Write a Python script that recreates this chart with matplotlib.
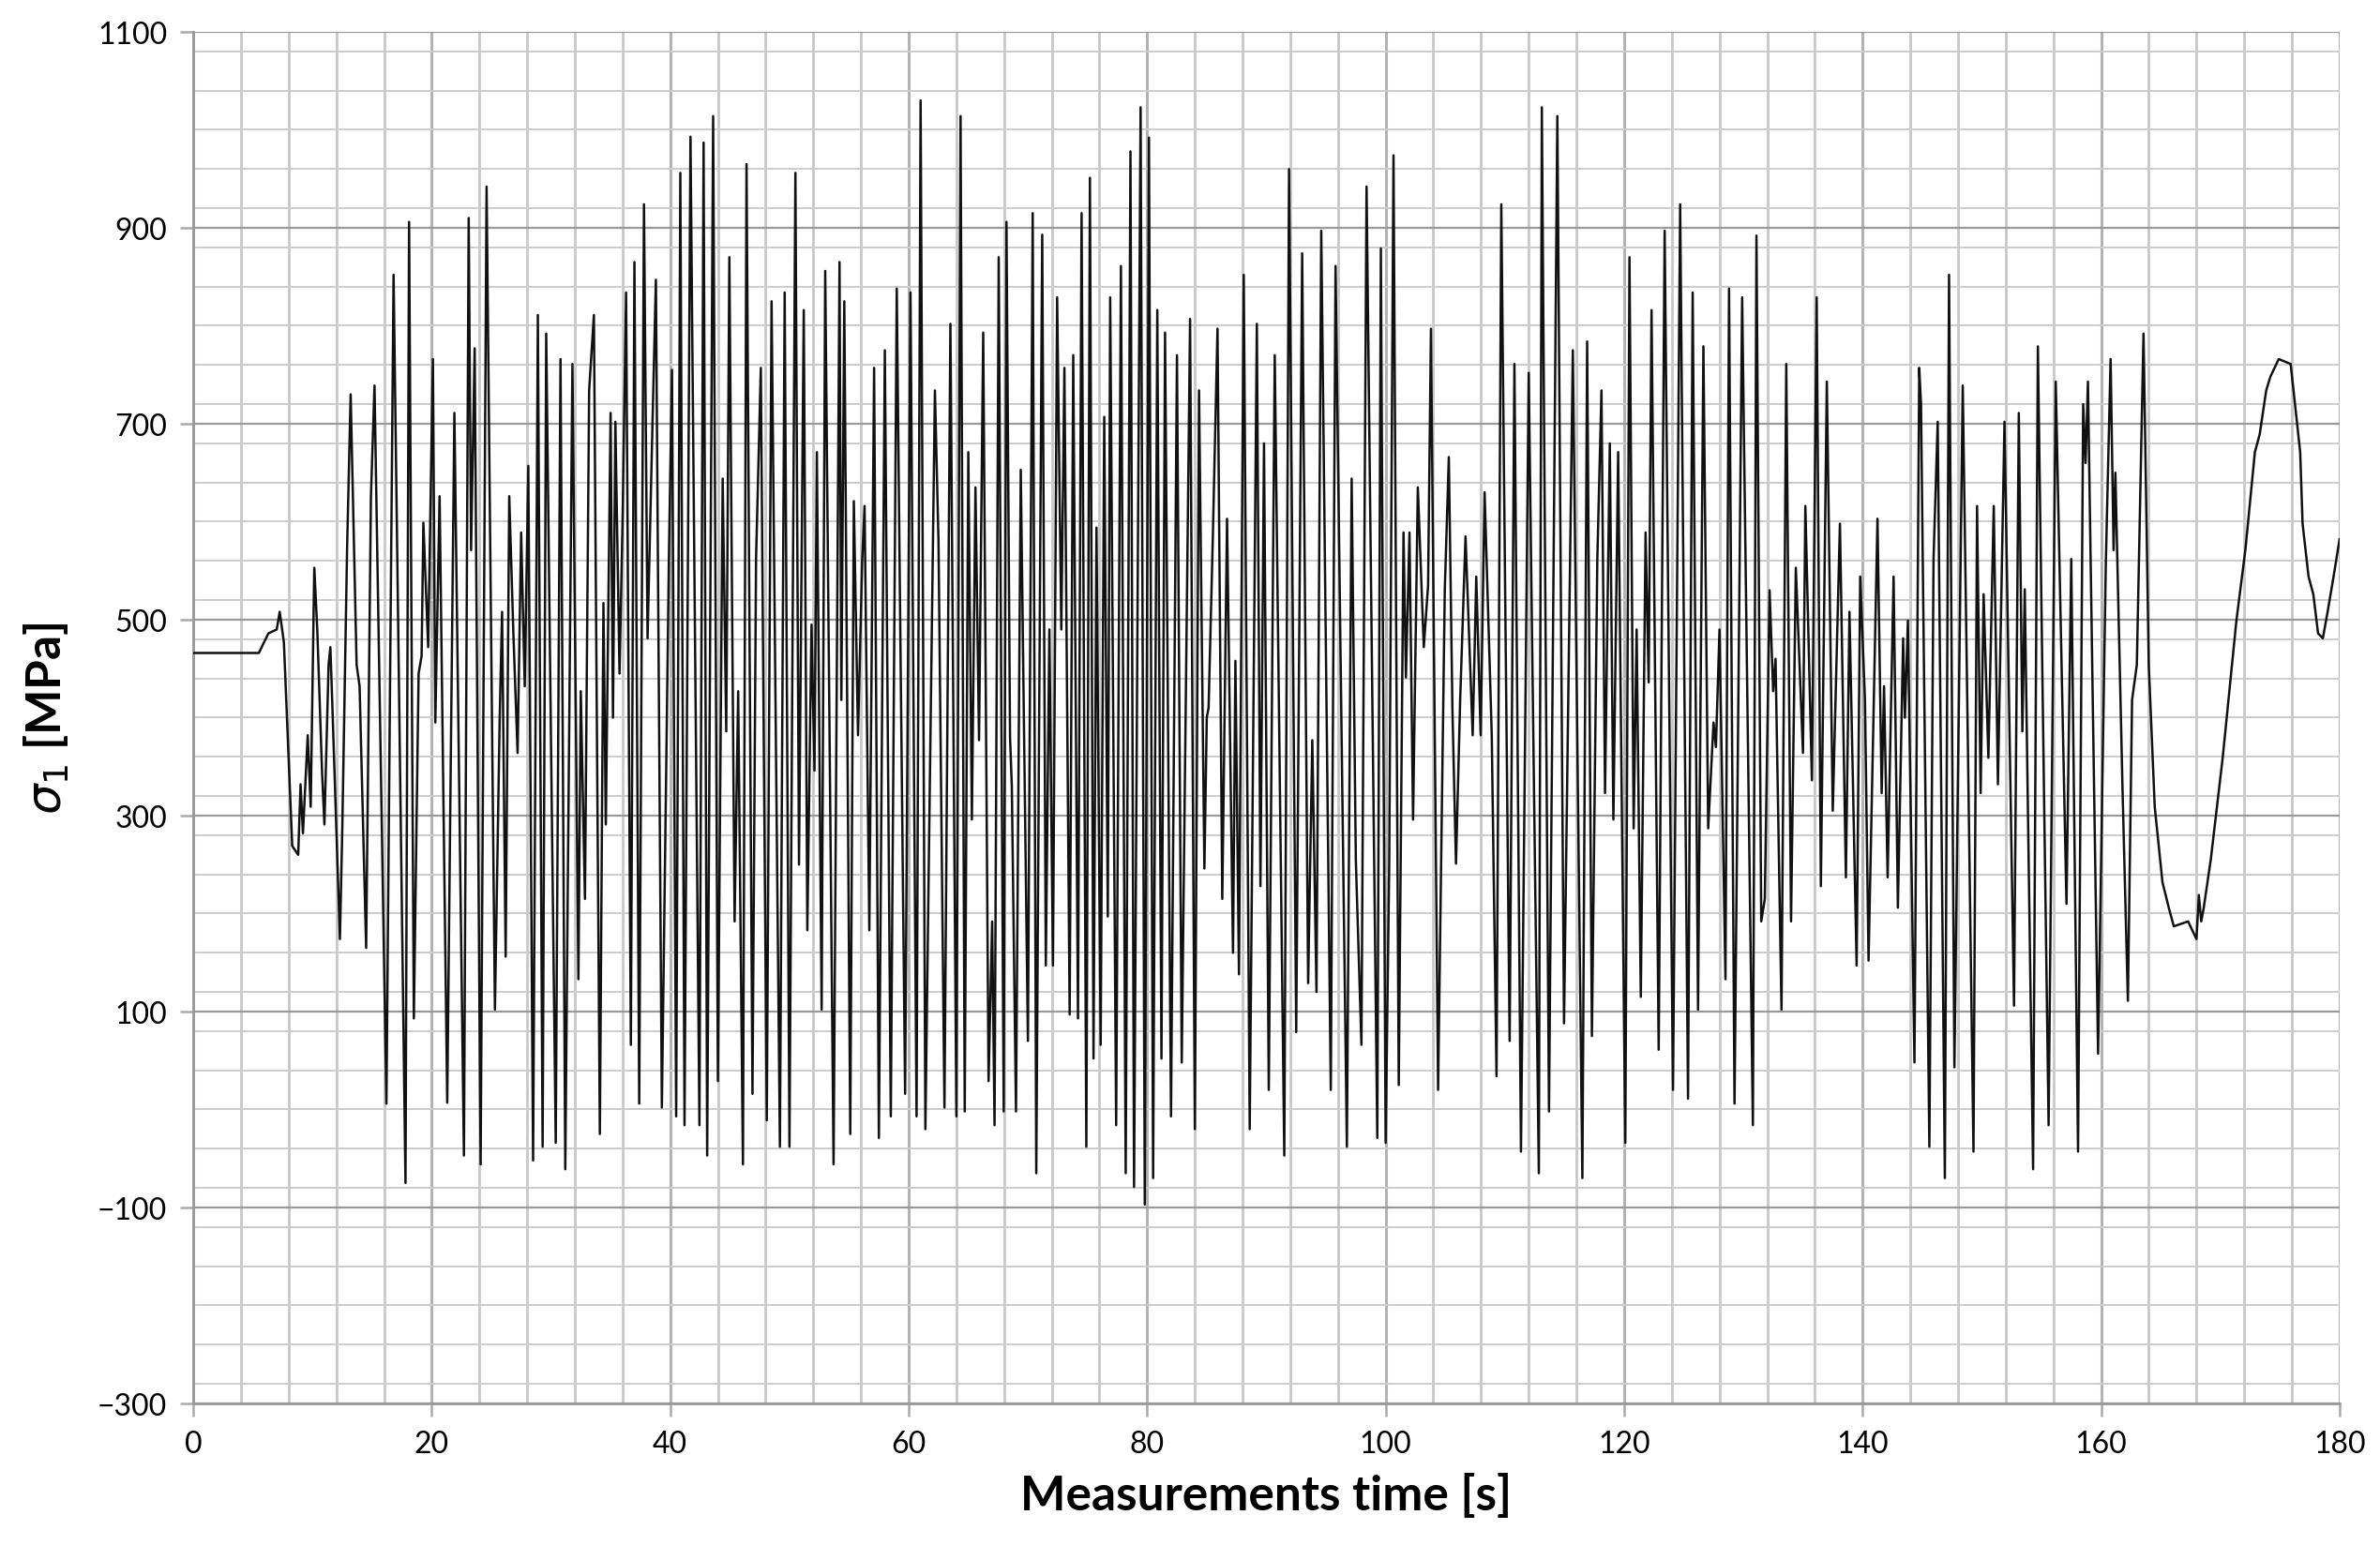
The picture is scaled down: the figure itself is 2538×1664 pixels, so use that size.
import matplotlib
matplotlib.use("Agg")
import matplotlib.pyplot as plt
from matplotlib.ticker import MultipleLocator

# turning points of the stress signal: time [s] and sigma_1 [MPa]
time_s = [
    0, 5.5, 6.3, 7.0, 7.25, 7.6, 8.3, 8.8, 9.0, 9.2, 9.6, 9.85, 10.15, 10.4, 10.8, 11.0,
    11.35, 11.5, 11.65, 12.3, 12.5, 12.9, 13.2, 13.7, 13.95, 14.5, 14.9, 15.2, 16.2, 16.8,
    17.8, 18.1, 18.5, 18.9, 19.15, 19.3, 19.7, 20.1,
    20.3, 20.66, 21.3, 21.9, 22.7, 23.1, 23.3, 23.6, 24.1, 24.6, 25.3, 25.7, 25.9, 26.2,
    26.5, 26.85, 27.2, 27.5, 27.8, 28.1, 28.5, 28.9, 29.3, 29.6, 30.4, 30.8, 31.2, 31.8,
    32.3, 32.5, 32.85, 33.2, 33.6, 34.1, 34.4, 34.6, 35.0, 35.2, 35.4, 35.75, 36.0, 36.3,
    36.7, 37.0, 37.4, 37.8, 38.1, 38.5, 38.8, 39.3, 39.9, 40.15,
    40.5, 40.85, 41.2, 41.7, 42.45, 42.8, 43.1, 43.6, 44.0, 44.4, 44.7, 44.96, 45.4, 45.7,
    46.1, 46.4, 46.9, 47.2, 47.6, 48.1, 48.5, 49.2, 49.6, 50.0, 50.5, 50.8, 51.2, 51.5,
    51.85, 52.1, 52.3, 52.7, 53.0, 53.7, 54.2, 54.35, 54.6, 55.1, 55.4, 55.75, 56.1, 56.3,
    56.7, 57.1, 57.5, 58.0, 58.5, 59.0, 59.7, 60.15, 60.66,
    61.0, 61.4, 62.2, 62.5, 63.0, 63.5, 64.0, 64.35, 64.7, 65.0, 65.3, 65.6, 65.9, 66.25,
    66.7, 67.0, 67.2, 67.55, 67.97, 68.2, 68.5, 68.65, 69.0, 69.4, 70.0, 70.4, 70.7, 71.2,
    71.5, 71.8, 72.1, 72.45, 72.8, 73.06, 73.5, 73.8, 74.2, 74.5, 74.9, 75.2, 75.5, 75.75,
    76.1, 76.4, 76.7, 76.9, 77.4, 77.8, 78.2, 78.6, 78.9, 79.45, 79.8, 80.15, 80.5,
    80.85, 81.2, 81.5, 82.0, 82.5, 82.9, 83.6, 84.0, 84.35, 84.8, 85.0, 85.15, 85.5, 85.9,
    86.3, 86.7, 87.2, 87.4, 87.7, 88.1, 88.6, 89.2, 89.5, 89.8, 90.2, 90.7, 91.5, 91.9,
    92.5, 93.0, 93.5, 93.85, 94.2, 94.6, 95.4, 95.8, 96.75, 97.15, 97.5, 97.97, 98.4, 99.3,
    99.6, 100.0,
    100.3, 100.66, 101.1, 101.5, 101.7, 102.0, 102.3, 102.7, 103.2, 103.56, 103.8, 104.4,
    104.96, 105.3, 105.6, 105.9, 106.25, 106.7, 107.3, 107.6, 107.97, 108.3, 108.9, 109.3,
    109.7, 110.4, 110.8, 111.35, 112.0, 112.85, 113.1, 113.7, 114.4, 114.96, 115.7, 116.5,
    116.9, 117.3, 117.75, 118.1, 118.4, 118.8, 119.1, 119.5, 120.1,
    120.45, 120.8, 121.05, 121.4, 121.8, 122.06, 122.3, 122.9, 123.4, 124.1, 124.7, 125.36,
    125.75, 126.2, 126.65, 127.05, 127.5, 127.7, 128.0, 128.5, 128.8, 129.26, 129.9, 130.8,
    131.1, 131.5, 131.8, 132.2, 132.5, 132.7, 133.2, 133.6, 134.0, 134.4, 135.0, 135.2,
    135.75, 136.15, 136.5, 137.0, 137.5, 138.1, 138.6, 138.9, 139.5,
    139.8, 140.2, 140.5, 141.25, 141.6, 141.8, 142.1, 142.6, 142.96, 143.4, 143.55, 143.8,
    144.35, 144.75, 144.9, 145.6, 145.95, 146.3, 146.9, 147.25, 147.7, 148.4, 148.8, 149.3,
    149.6, 149.9, 150.15, 150.55, 151.0, 151.35, 151.9, 152.7, 153.1, 153.4, 153.6, 154.3,
    154.7, 155.6, 156.2, 157.1, 157.5, 158.07, 158.5, 158.7, 158.9, 159.75,
    160.4, 160.8, 161.05, 161.2, 161.8, 162.25, 162.6, 163.0, 163.56, 164.0, 164.5, 165.15,
    165.7, 166.1, 167.3, 168.0, 168.2, 168.4, 168.6, 169.2, 170.2, 171.35, 172.1, 172.9,
    173.3, 173.85, 174.2, 174.9, 175.9, 176.3, 176.7, 176.9, 177.4, 177.8, 178.2, 178.6,
    179.0, 179.5, 180.0,
]

sigma_mpa = [
    466, 466, 486, 490, 508, 477, 269, 260, 332, 282, 382, 309, 553, 490, 345, 291,
    454, 472, 418, 174, 287, 572, 730, 454, 432, 165, 625, 739, 6, 852,
    -75, 906, 93, 445, 463, 599, 472, 766,
    395, 626, 7, 711, -47, 910, 571, 777, -56, 942, 102, 400, 508, 156,
    626, 485, 364, 589, 432, 657, -52, 811, -38, 792, -34, 766, -61, 761,
    133, 427, 215, 734, 811, -25, 517, 291, 711, 400, 702, 445, 598, 834,
    66, 865, 6, 924, 481, 693, 847, 2, 571, 755,
    -7, 956, -16, 993, -16, 987, -47, 1014, 29, 644, 386, 870, 192, 427,
    -56, 965, 16, 562, 757, -11, 825, -38, 834, -38, 956, 250, 816, 183,
    495, 346, 671, 102, 856, -56, 865, 418, 825, -25, 621, 382, 560, 616,
    183, 757, -29, 775, -7, 838, 16, 834, -7,
    1030, -20, 734, 580, 2, 802, -7, 1014, -2, 671, 296, 635, 377, 793,
    29, 192, -16, 870, -2, 906, 380, 330, -2, 653, 70, 915, -65, 893,
    147, 490, 147, 829, 490, 757, 97, 770, 93, 915, -38, 951, 52, 594,
    66, 707, 197, 829, -16, 861, -65, 978, -79, 1023, -97, 992, -70,
    816, 52, 793, -7, 770, 48, 807, -20, 734, 246, 400, 410, 580, 797,
    215, 603, 160, 458, 138, 852, -20, 802, 228, 680, 20, 770, -47, 960,
    79, 874, 129, 377, 120, 897, 20, 861, -38, 644, 255, 66, 942, -29,
    879, -34,
    250, 974, 25, 589, 441, 589, 296, 635, 472, 535, 797, 20,
    530, 666, 409, 251, 418, 585, 382, 544, 382, 630, 382, 34,
    924, 70, 761, -43, 752, -65, 1023, -2, 1014, 88, 775, -70,
    784, 75, 560, 734, 323, 680, 296, 671, -34,
    870, 287, 490, 115, 589, 436, 816, 61, 897, 20, 924, 11,
    834, 102, 779, 287, 395, 370, 490, 133, 838, 6, 829, -16,
    892, 192, 215, 530, 427, 460, 102, 761, 192, 553, 364, 616,
    336, 829, 228, 743, 305, 598, 237, 508, 147,
    544, 418, 152, 603, 323, 432, 237, 544, 206, 481, 400, 499,
    48, 757, 720, -38, 562, 702, -70, 852, 43, 739, 400, -43,
    616, 323, 526, 359, 616, 332, 702, 106, 711, 386, 531, -61,
    779, -16, 743, 210, 562, -43, 720, 660, 743, 57,
    558, 766, 571, 650, 327, 111, 418, 454, 792, 454, 309, 232,
    205, 187, 192, 174, 219, 192, 205, 255, 359, 499, 571, 671,
    689, 734, 748, 766, 761, 716, 671, 598, 544, 526, 486, 481,
    508, 544, 582,
]

x_ticks = list(range(0, 181, 20))
y_ticks = list(range(-300, 1101, 200))

plt.rcParams['font.family'] = ['Lato', 'DejaVu Sans']
plt.rcParams['mathtext.fontset'] = 'dejavusans'

fig = plt.figure(figsize=(25.38, 16.65), dpi=100)
ax = fig.add_axes([0.0812, 0.1003, 0.9018, 0.8787])

ax.plot(time_s, sigma_mpa, color='#111111', linewidth=1.8, zorder=3)

ax.set_xlim(0, 180)
ax.set_ylim(-300, 1100)
ax.set_xticks(x_ticks)
ax.set_yticks(y_ticks)
ax.xaxis.set_minor_locator(MultipleLocator(4))
ax.yaxis.set_minor_locator(MultipleLocator(40))

ax.grid(which='major', axis='x', color='#b3b3b3', linewidth=2.2)
ax.grid(which='minor', axis='x', color='#c8c8c8', linewidth=2.0)
ax.grid(which='major', axis='y', color='#999999', linewidth=1.6)
ax.grid(which='minor', axis='y', color='#cccccc', linewidth=1.4)
ax.set_axisbelow(True)

for side in ['top', 'right']:
    ax.spines[side].set_visible(False)
for side in ['left', 'bottom']:
    ax.spines[side].set_color('#999999')
    ax.spines[side].set_linewidth(2.0)

ax.tick_params(which='major', direction='out', length=10, width=1.8, color='#aaaaaa',
               labelsize=23, pad=10)
ax.tick_params(which='minor', length=0)

ax.set_xlabel('Measurements time [s]', fontsize=37, fontweight='bold', labelpad=12)
ax.set_ylabel(r'$\sigma_1$ [MPa]', fontsize=37, fontweight='bold', labelpad=20)

fig.savefig('out.png', dpi=100)
